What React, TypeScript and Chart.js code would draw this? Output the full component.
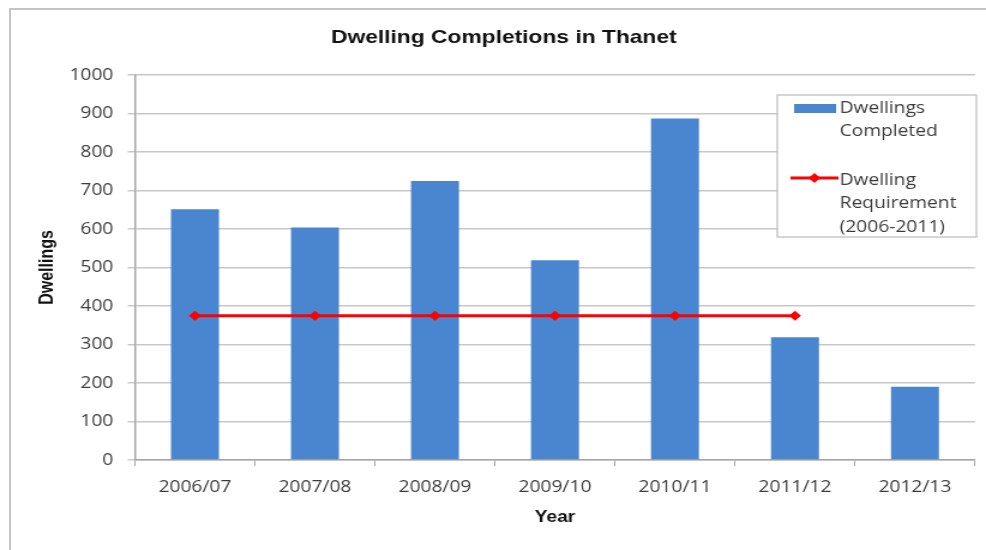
import { useEffect, useRef } from "react";
import { Chart, registerables } from "chart.js";

Chart.register(...registerables);

// Financial years along the x axis
const years = ["2006/07", "2007/08", "2008/09", "2009/10", "2010/11", "2011/12", "2012/13"];
// Net dwellings completed each year
const completed = [651, 604, 725, 519, 887, 319, 190];
// Annual requirement for 2006-2011 (no figure for 2012/13)
const requirement = [375, 375, 375, 375, 375, 375, null];

// Legend text, one entry per line
const completedLegend = ["Dwellings", "Completed"];
const requirementLegend = ["Dwelling", "Requirement", "(2006-2011)"];

const Y_MIN = 0;
const Y_MAX = 1000;
const Y_STEP = 100;

// The plot is laid out on a narrower canvas and widened to the frame width.
const FRAME_W = 986;
const FRAME_H = 550;
const PLOT_W = 822;
const STRETCH = FRAME_W / PLOT_W;

const BAR_BLUE = "#4a86d0";
const LINE_RED = "#ff0000";
const TEXT_GREY = "#3c3c3c";
const GRID_GREY = "#c8c8c8";

const TICK_FONT = { family: "'Open Sans', sans-serif", size: 16 };
const BOLD_FONT = "'Liberation Sans', Arial, sans-serif";

// Boxed legend drawn inside the plot area, top-right
const boxLegend = {
  id: "boxLegend",
  afterDraw(chart: any) {
    const ctx: CanvasRenderingContext2D = chart.ctx;
    const x0 = 648;
    const y0 = 95;
    const w = 166;
    const h = 142;
    ctx.save();
    ctx.fillStyle = "#ffffff";
    ctx.fillRect(x0, y0, w, h);
    ctx.strokeStyle = GRID_GREY;
    ctx.lineWidth = 1.5;
    ctx.strokeRect(x0, y0, w, h);

    const textX = 700;
    ctx.font = `16px ${TICK_FONT.family}`;
    ctx.textBaseline = "middle";
    ctx.textAlign = "left";

    // bar entry
    ctx.fillStyle = BAR_BLUE;
    ctx.fillRect(662, 104, 35, 9);
    ctx.fillStyle = TEXT_GREY;
    completedLegend.forEach((t, i) => ctx.fillText(t, textX, 108 + i * 23.5));

    // line entry
    const ly = 178;
    ctx.strokeStyle = LINE_RED;
    ctx.lineWidth = 3;
    ctx.beginPath();
    ctx.moveTo(659, ly);
    ctx.lineTo(699, ly);
    ctx.stroke();
    ctx.fillStyle = LINE_RED;
    ctx.beginPath();
    ctx.moveTo(679, ly - 5);
    ctx.lineTo(684, ly);
    ctx.lineTo(679, ly + 5);
    ctx.lineTo(674, ly);
    ctx.closePath();
    ctx.fill();
    ctx.fillStyle = TEXT_GREY;
    requirementLegend.forEach((t, i) => ctx.fillText(t, textX, 180 + i * 23.5));
    ctx.restore();
  },
};

export default function App() {
  const canvasRef = useRef<HTMLCanvasElement | null>(null);

  useEffect(() => {
    if (!canvasRef.current) return;
    const chart = new Chart(canvasRef.current, {
      type: "bar",
      data: {
        labels: years,
        datasets: [
          {
            type: "line",
            label: requirementLegend.join(" "),
            data: requirement,
            borderColor: LINE_RED,
            backgroundColor: LINE_RED,
            borderWidth: 3,
            pointStyle: "rectRot",
            pointRadius: 5,
            pointBackgroundColor: LINE_RED,
            pointBorderColor: LINE_RED,
            pointBorderWidth: 0,
            spanGaps: false,
            order: 0,
          } as any,
          {
            type: "bar",
            label: completedLegend.join(" "),
            data: completed,
            backgroundColor: BAR_BLUE,
            borderWidth: 0,
            categoryPercentage: 1,
            barPercentage: 0.4,
            order: 1,
          },
        ],
      },
      options: {
        animation: false,
        responsive: true,
        maintainAspectRatio: false,
        layout: { padding: { left: 27.2, right: 9.2, top: 0, bottom: 0 } },
        plugins: {
          legend: { display: false },
          tooltip: { enabled: false },
          title: {
            display: true,
            text: "Dwelling Completions in Thanet",
            color: "#111111",
            font: { family: BOLD_FONT, size: 19, weight: "bold" },
            padding: { top: 26.6, bottom: 25.6 },
          },
        },
        scales: {
          x: {
            grid: {
              display: true,
              offset: true,
              drawOnChartArea: false,
              drawTicks: true,
              tickLength: 6,
              color: "#a6a6a6",
            },
            border: { display: true, color: "#a6a6a6", width: 1.5 },
            ticks: { color: TEXT_GREY, font: TICK_FONT, padding: 12, maxRotation: 0 },
            title: {
              display: true,
              text: "Year",
              color: "#111111",
              font: { family: BOLD_FONT, size: 16, weight: "bold" },
              padding: { top: 0, bottom: 22.4 },
            },
            afterFit(scale: any) {
              scale.height = 90;
            },
          },
          y: {
            min: Y_MIN,
            max: Y_MAX,
            ticks: {
              stepSize: Y_STEP,
              color: TEXT_GREY,
              font: TICK_FONT,
              padding: 12,
              callback: (v: any) => String(v),
            },
            grid: { color: GRID_GREY, lineWidth: 1.5, tickLength: 6 },
            border: { display: true, color: "#a6a6a6", width: 1.5 },
            title: {
              display: true,
              text: "Dwellings",
              color: "#111111",
              font: { family: BOLD_FONT, size: 16, weight: "bold" },
              padding: { top: 3, bottom: 0 },
            },
            afterFit(scale: any) {
              scale.width = 85.3;
            },
          },
        },
      },
      plugins: [boxLegend],
    });
    return () => chart.destroy();
  }, []);

  return (
    <div
      style={{
        position: "fixed",
        left: 0,
        top: 0,
        width: FRAME_W,
        height: FRAME_H,
        overflow: "hidden",
        background: "#ffffff",
      }}
    >
      <div
        style={{
          position: "absolute",
          left: 9,
          top: 8,
          width: FRAME_W,
          height: FRAME_H,
          borderTop: "2px solid #c4c4c4",
          borderLeft: "2px solid #c4c4c4",
        }}
      />
      <div
        style={{
          position: "absolute",
          left: 0,
          top: 0,
          width: PLOT_W,
          height: FRAME_H,
          transform: `scaleX(${STRETCH})`,
          transformOrigin: "0 0",
        }}
      >
        <canvas ref={canvasRef} />
      </div>
    </div>
  );
}
